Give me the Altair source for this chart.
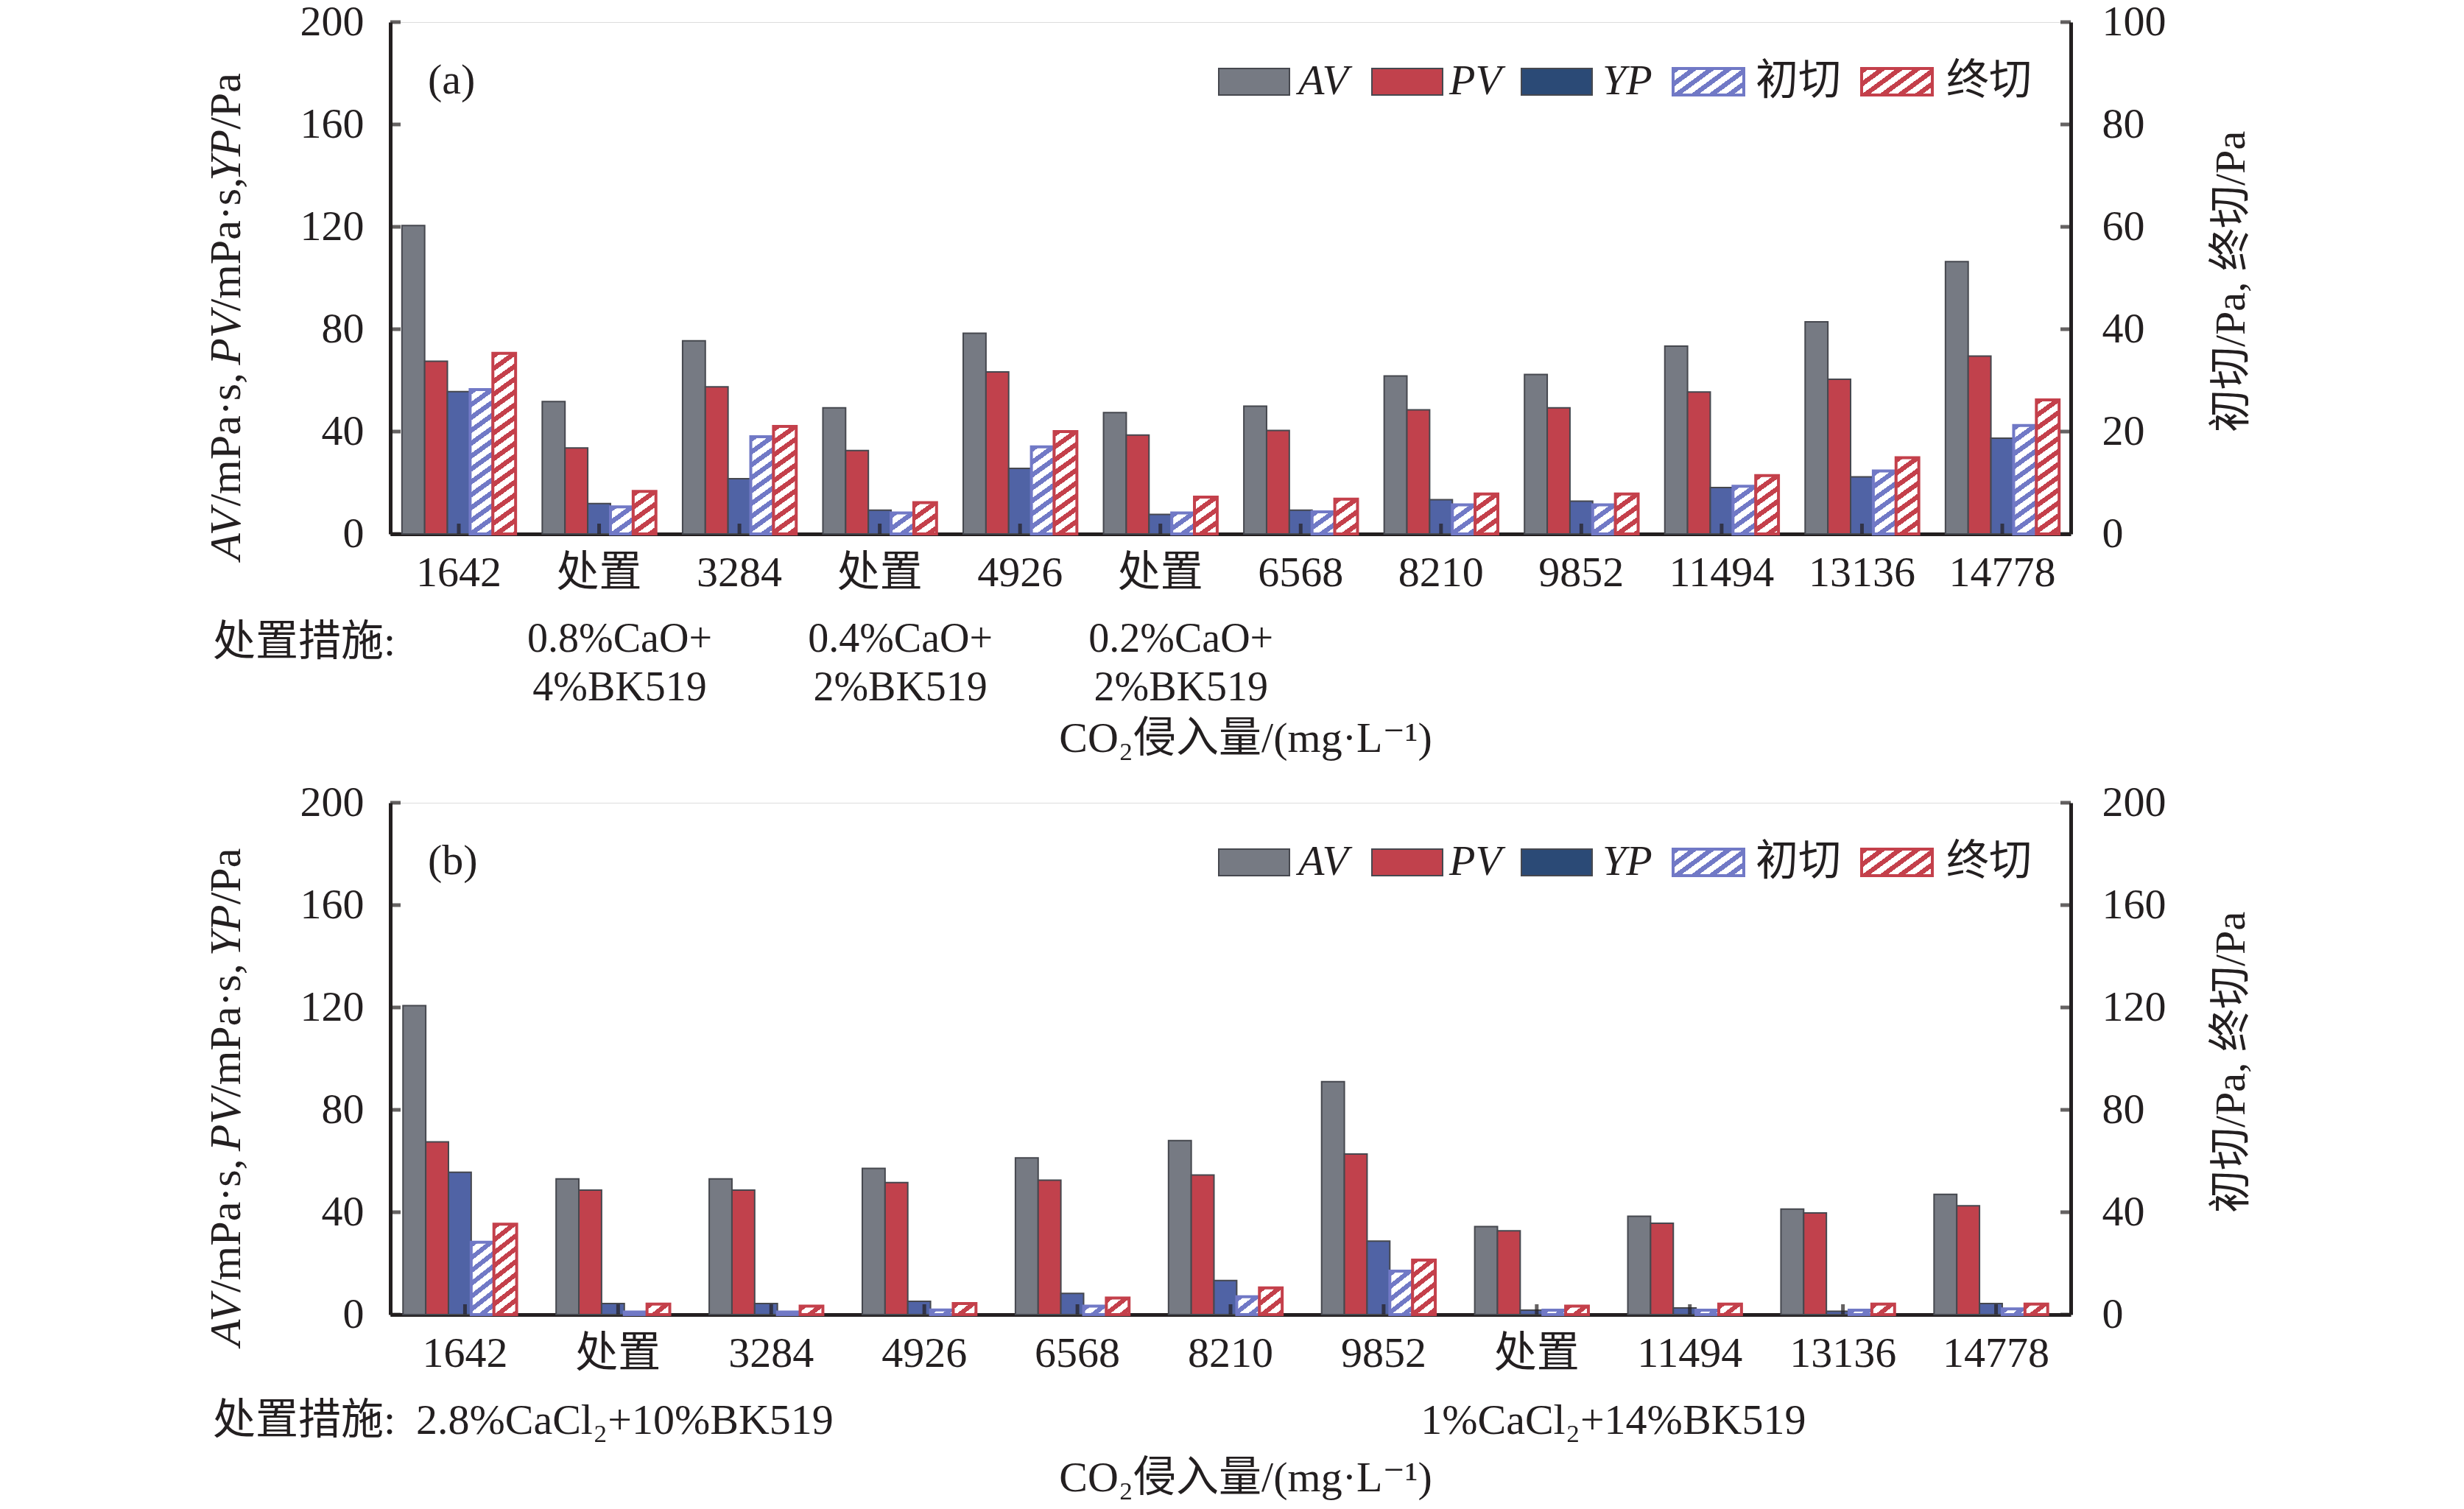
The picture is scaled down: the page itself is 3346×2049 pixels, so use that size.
import altair as alt
import pandas as pd

SERIES = ["AV", "PV", "YP", "初切", "终切"]

# ---------------- panel (a) ----------------
A_LABELS = ["1642", "处置", "3284", "处置", "4926", "处置", "6568", "8210", "9852", "11494", "13136", "14778"]
A_AV = [120.5, 51.7, 75.5, 49.3, 78.4, 47.4, 49.9, 61.7, 62.3, 73.4, 82.9, 106.4]
A_PV = [67.5, 33.6, 57.5, 32.6, 63.3, 38.6, 40.4, 48.5, 49.3, 55.5, 60.4, 69.5]
A_YP = [55.6, 11.9, 21.6, 9.3, 25.6, 7.6, 9.3, 13.4, 12.8, 18.1, 22.3, 37.4]
A_INIT = [28.2, 5.3, 19.0, 4.1, 17.0, 4.1, 4.3, 5.7, 5.7, 9.3, 12.3, 21.2]    # right axis (Pa)
A_FINAL = [35.3, 8.3, 21.0, 6.1, 20.0, 7.2, 6.8, 7.8, 7.8, 11.4, 14.9, 26.2]  # right axis (Pa)
A_LEFT_TICKS = [0, 40, 80, 120, 160, 200]
A_RIGHT_TICKS = [0, 20, 40, 60, 80, 100]
A_TREAT = [(1, "0.8%CaO+\n4%BK519"), (3, "0.4%CaO+\n2%BK519"), (5, "0.2%CaO+\n2%BK519")]
A_LEFT_TITLE = [("AV", True), ("/mPa·s, ", False), ("PV", True), ("/mPa·s,", False),
                ("YP", True), ("/Pa", False)]

# ---------------- panel (b) ----------------
B_LABELS = ["1642", "处置", "3284", "4926", "6568", "8210", "9852", "处置", "11494", "13136", "14778"]
B_AV = [120.7, 53.0, 53.0, 57.1, 61.2, 68.0, 91.0, 34.4, 38.4, 41.2, 47.0]
B_PV = [67.5, 48.6, 48.6, 51.6, 52.5, 54.5, 62.7, 32.7, 35.7, 39.7, 42.5]
B_YP = [55.6, 4.3, 4.3, 5.2, 8.3, 13.3, 28.7, 1.7, 2.6, 1.3, 4.3]
B_INIT = [28.3, 1.0, 1.0, 1.8, 3.3, 7.0, 17.0, 1.7, 1.7, 1.7, 2.2]
B_FINAL = [35.3, 4.1, 3.3, 4.3, 6.5, 10.4, 21.3, 3.3, 4.1, 4.1, 4.1]
B_LEFT_TICKS = [0, 40, 80, 120, 160, 200]
B_RIGHT_TICKS = [0, 40, 80, 120, 160, 200]
B_TREAT = [(1, "2.8%CaCl₂+10%BK519", 9), (7, "1%CaCl₂+14%BK519", 104)]
B_LEFT_TITLE = [("AV", True), ("/mPa·s, ", False), ("PV", True), ("/mPa·s, ", False),
                ("YP", True), ("/Pa", False)]

# ---------------- style ----------------
SOLID_COLORS = ["#767a83", "#c1414c", "#5063a5"]
HATCH_COLORS = {"初切": "#7179c6", "终切": "#c4404b"}
LEGEND_COLORS = {"AV": "#767a83", "PV": "#c1414c", "YP": "#2b4a76"}
INK = "#231f20"
FONT = "Liberation Serif, DejaVu Serif, Noto Sans CJK SC"
FS = 58
TFS = 60
PLOT_W, PLOT_H = 2282, 695
PI, PO = 0.19, 0.083
SLOPE, PERIOD, FRAC = 0.72, 17.5, 0.45

# Times / Liberation Serif advance widths (per 1000 em) used to lay out the mixed-style title
REG_W = {"/": 278, "m": 778, "P": 556, "a": 444, "·": 250, "s": 389, ",": 250, " ": 250}
ITA_W = {"A": 611, "V": 611, "P": 611, "Y": 556}


def hatch_fill(color, w, h):
    h = max(h, 1.0)
    L = SLOPE * w + h
    c = L / (SLOPE ** 2 * w ** 2 + h ** 2)
    stops = []
    k = 0
    while k * PERIOD / L < 1:
        t0 = round(k * PERIOD / L, 5)
        t1 = round(min((k + FRAC) * PERIOD / L, 1), 5)
        t2 = round(min((k + 1) * PERIOD / L, 1), 5)
        stops += [{"offset": t0, "color": color}, {"offset": t1, "color": color},
                  {"offset": t1, "color": "#ffffff"}, {"offset": t2, "color": "#ffffff"}]
        k += 1
    return {"gradient": "linear", "x1": 0, "y1": 0,
            "x2": round(c * SLOPE * w, 5), "y2": round(c * h, 5), "stops": stops}


ONE = pd.DataFrame({"d": [0]})


def txt(text, x, y, align="left", italic=False, size=FS, angle=0):
    return alt.Chart(ONE).mark_text(
        text=text, font=FONT, fontSize=size, align=align, baseline="middle",
        color=INK, fontStyle="italic" if italic else "normal", angle=angle
    ).encode(x=alt.value(x), y=alt.value(y))


def left_title_layers(parts, xc, yc):
    widths = []
    for s, it in parts:
        table = ITA_W if it else REG_W
        widths.append(sum(table.get(ch, 500) for ch in s) / 1000 * TFS)
    total = sum(widths)
    y = yc + total / 2
    layers = []
    for (s, it), w in zip(parts, widths):
        layers.append(txt(s, xc, y, italic=it, size=TFS, angle=270))
        y -= w
    return layers


def legend_layers():
    layers = []
    items = [("AV", 1125, 1233), ("PV", 1333, 1438), ("YP", 1536, 1646),
             ("初切", 1742, 1854), ("终切", 1998, 2113)]
    for name, x0, tx in items:
        if name in LEGEND_COLORS:
            mk = alt.Chart(ONE).mark_rect(fill=LEGEND_COLORS[name], stroke="#46484f", strokeWidth=2)
            layers.append(txt(name, tx, 81, italic=True))
        else:
            mk = alt.Chart(ONE).mark_rect(fill=hatch_fill(HATCH_COLORS[name], 98, 36),
                                          stroke=HATCH_COLORS[name], strokeWidth=4)
            layers.append(txt(name, tx, 81))
        layers.insert(0, mk.encode(x=alt.value(x0), x2=alt.value(x0 + 96),
                                   y=alt.value(63), y2=alt.value(99)))
    return layers


def build_panel(tag, labels, av, pv, yp, init, final, lticks, rticks, left_title,
                title_y, treat_layers_fn):
    n = len(labels)
    keys = [f"{lab}#{i}" for i, lab in enumerate(labels)]
    step = PLOT_W / (n - PI + 2 * PO)
    bar_w = step * (1 - PI) / 5
    rmax = rticks[-1]

    rows = []
    for i, k in enumerate(keys):
        for s, vals in zip(["AV", "PV", "YP"], [av, pv, yp]):
            rows.append({"key": k, "series": s, "value": vals[i]})
    solid_df = pd.DataFrame(rows)

    hrows = []
    for i, k in enumerate(keys):
        for s, vals in zip(["初切", "终切"], [init, final]):
            hrows.append({"id": len(hrows), "key": k, "series": s, "value": vals[i]})
    hatch_df = pd.DataFrame(hrows)

    tick_df = pd.DataFrame({"key": keys, "value": [0] * n})

    xenc = alt.X(
        "key:N",
        scale=alt.Scale(domain=keys, paddingInner=PI, paddingOuter=PO),
        title="CO₂侵入量/(mg·L⁻¹)",
        axis=alt.Axis(
            labelExpr="split(datum.value, '#')[0]", labelAngle=0, labelFont=FONT,
            labelFontSize=FS, labelColor=INK, labelPadding=24, labelOverlap=False,
            ticks=False, tickSize=0, domainColor=INK, domainWidth=5, grid=False,
            titleFont=FONT, titleFontSize=FS, titleFontWeight="normal", titleColor=INK,
            titleX=1161, titleY=title_y, titleAlign="center", titleBaseline="middle",
        ),
    )
    xoff = alt.XOffset("series:N", scale=alt.Scale(domain=SERIES, paddingInner=0, paddingOuter=0))
    yl = alt.Y(
        "value:Q", scale=alt.Scale(domain=[0, 200], nice=False), title=None,
        axis=alt.Axis(
            values=lticks, ticks=False, tickSize=0, labelFont=FONT, labelFontSize=FS,
            labelColor=INK, labelPadding=36, domainColor=INK, domainWidth=5, grid=False,
        ),
    )
    yr = alt.Y(
        "value:Q", scale=alt.Scale(domain=[0, rmax], nice=False), title="初切/Pa, 终切/Pa",
        axis=alt.Axis(
            orient="right", values=rticks, ticks=False, tickSize=0, labelFont=FONT,
            labelFontSize=FS, labelColor=INK, labelPadding=42, domainColor=INK, domainWidth=5,
            grid=False, titleFont=FONT, titleFontSize=FS, titleFontWeight="normal",
            titleColor=INK, titleAngle=270, titleX=218, titleY=352, titleAlign="center",
            titleBaseline="middle",
        ),
    )

    solid = alt.Chart(solid_df).mark_bar(stroke="#46484f", strokeWidth=2).encode(
        x=xenc, xOffset=xoff, y=yl,
        color=alt.Color("series:N", scale=alt.Scale(domain=["AV", "PV", "YP"], range=SOLID_COLORS),
                        legend=None),
    )
    xticks = alt.Chart(tick_df).mark_tick(orient="vertical", size=14, thickness=5, yOffset=-7,
                                          color=INK).encode(x=xenc, y=yl)
    lt = alt.Chart(pd.DataFrame({"value": lticks})).mark_tick(
        orient="horizontal", size=14, thickness=5, xOffset=7, color=INK
    ).encode(x=alt.value(0), y=yl)

    left_layers = ([solid, xticks, lt, txt(tag, 51, 80)] + legend_layers()
                   + left_title_layers(left_title, -222, 400) + treat_layers_fn(keys, xenc))
    left_group = alt.layer(*left_layers)

    hatch_layers = []
    for r in hrows:
        col = HATCH_COLORS[r["series"]]
        h = r["value"] / rmax * PLOT_H
        hatch_layers.append(
            alt.Chart(hatch_df).transform_filter(alt.datum.id == r["id"]).mark_bar(
                fill=hatch_fill(col, bar_w, h), stroke=col, strokeWidth=4
            ).encode(x=xenc, xOffset=xoff, y=yr)
        )
    rt = alt.Chart(pd.DataFrame({"value": rticks})).mark_tick(
        orient="horizontal", size=14, thickness=5, xOffset=-7, color=INK
    ).encode(x=alt.value(PLOT_W), y=yr)
    right_group = alt.layer(*hatch_layers, rt)

    return alt.layer(left_group, right_group).resolve_scale(y="independent").properties(
        width=PLOT_W, height=PLOT_H
    )


def treat_a(keys, xenc):
    df = pd.DataFrame({"key": [keys[i] for i, _ in A_TREAT], "t": [t for _, t in A_TREAT]})
    return [
        txt("处置措施:", -241, PLOT_H + 148),
        alt.Chart(df).mark_text(font=FONT, fontSize=56, color=INK, baseline="top", dx=28,
                                lineBreak="\n", lineHeight=66).encode(
            x=xenc, y=alt.value(PLOT_H + 116), text="t:N"),
    ]


def treat_b(keys, xenc):
    layers = [txt("处置措施:", -241, PLOT_H + 145)]
    for i, t, dx in B_TREAT:
        df = pd.DataFrame({"key": [keys[i]], "t": [t]})
        layers.append(alt.Chart(df).mark_text(font=FONT, fontSize=FS, color=INK,
                                              baseline="middle", dx=dx).encode(
            x=xenc, y=alt.value(PLOT_H + 145), text="t:N"))
    return layers


panel_a = build_panel("(a)", A_LABELS, A_AV, A_PV, A_YP, A_INIT, A_FINAL, A_LEFT_TICKS,
                      A_RIGHT_TICKS, A_LEFT_TITLE, 278, treat_a)
panel_b = build_panel("(b)", B_LABELS, B_AV, B_PV, B_YP, B_INIT, B_FINAL, B_LEFT_TICKS,
                      B_RIGHT_TICKS, B_LEFT_TITLE, 222, treat_b)

chart = alt.vconcat(panel_a, panel_b, spacing=27).properties(
    padding={"left": 269, "top": -8, "right": 10, "bottom": 0}
).configure_view(stroke=None).configure(font=FONT)

chart.save("out.html", embed_options={"renderer": "svg", "actions": False})
